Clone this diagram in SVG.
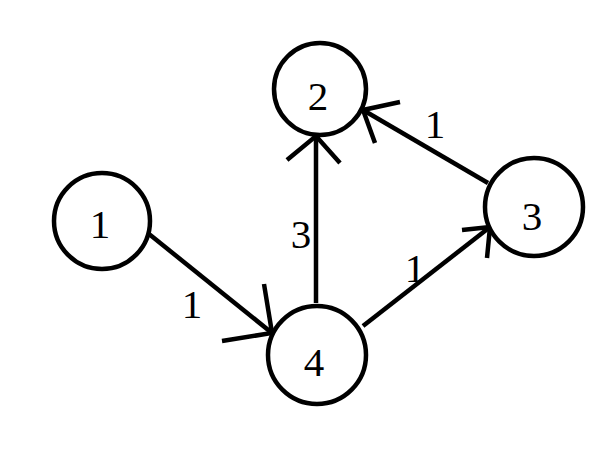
<svg xmlns="http://www.w3.org/2000/svg" width="611" height="450" viewBox="0 0 611 450">
<style>
.node circle{fill:#fff;stroke:#000;stroke-width:4.5}
text{font-family:"Liberation Serif","DejaVu Serif",serif;font-size:41px;fill:#000;text-anchor:middle}
.edge{fill:none;stroke:#000;stroke-width:4.5;stroke-linecap:butt;stroke-linejoin:miter}
</style>
<rect width="611" height="450" fill="#fff"/>
<g id="connectors">
<g id="e1-4"><path class="edge" d="M149,234 L272,333"/><path class="edge" d="M264,284 L272,333 L222,341"/><text x="192" y="318">1</text></g>
<g id="e4-2"><path class="edge" d="M316,303 L316,137"/><path class="edge" d="M287,160 L316,136 L340,163"/><text x="301" y="248">3</text></g>
<g id="e3-2"><path class="edge" d="M488,183 L363,110"/><path class="edge" d="M400,102 L363,110 L375,143"/><text x="435" y="138">1</text></g>
<g id="e4-3"><path class="edge" d="M363,326 L490,227"/><path class="edge" d="M462,230 L490,227 L487,258"/><text x="415" y="282">1</text></g>
</g>
<g id="node1" class="node"><circle cx="102" cy="221" r="48"/><text x="100" y="238">1</text></g>
<g id="node2" class="node"><circle cx="320" cy="89" r="46"/><text x="318" y="110">2</text></g>
<g id="node3" class="node"><circle cx="534" cy="207" r="49"/><text x="532" y="230">3</text></g>
<g id="node4" class="node"><circle cx="317" cy="355" r="49"/><text x="314" y="376">4</text></g>
</svg>
